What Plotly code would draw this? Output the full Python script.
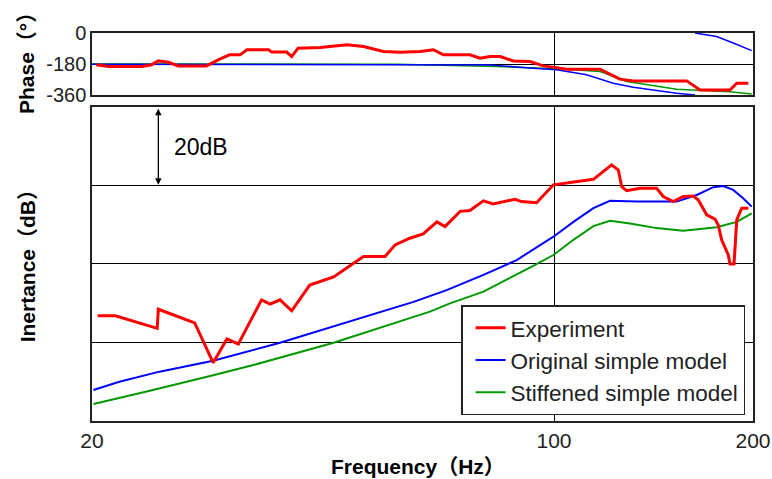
import math
import plotly.graph_objects as go

# ---------------- data ----------------
exp_freq = [20.4, 21.7, 25.1, 25.2, 28.6, 30.5, 32.0, 33.3, 36.1, 37.2, 38.5, 40.1, 42.7, 46.4,
            51.5, 55.5, 57.5, 60.5, 63.4, 66.5, 68.4, 72.1, 74.6, 78.2, 80.9, 87.3, 89.3, 94.1,
            99.8, 114.7, 122.2, 125.1, 126.6, 128.8, 134.9, 143.0, 146.3, 151.5, 156.9, 162.5,
            165.3, 170.2, 175.2, 177.2, 179.3, 183.5, 184.6, 187.2, 189.0, 192.3, 196.8]
exp_db = [26.7, 26.7, 23.5, 28.4, 24.9, 14.7, 20.8, 19.5, 30.8, 29.7, 30.8, 28.0, 34.6, 36.7,
          41.9, 41.9, 44.9, 46.6, 47.7, 50.8, 49.6, 53.5, 53.7, 56.2, 55.4, 56.6, 56.0, 55.7,
          60.3, 61.7, 65.4, 64.1, 59.8, 58.8, 59.4, 59.4, 57.3, 56.0, 57.3, 57.4,
          56.4, 52.6, 51.5, 50.0, 46.2, 42.3, 40.0, 40.0, 51.3, 54.3, 54.3]

orig_freq = [20.1, 22.0, 25.3, 30.5, 38.5, 52.1, 61.3, 68.8, 78.2, 87.8, 93.0, 99.8, 107.0,
             114.7, 121.5, 133.4, 153.3, 164.4, 174.2, 180.3, 186.7, 193.4, 199.1]
orig_db = [7.7, 9.8, 12.4, 15.2, 19.8, 26.7, 30.3, 33.3, 37.2, 41.0, 43.6, 47.0, 50.8,
           54.3, 56.2, 56.0, 56.0, 57.7, 59.7, 60.0, 59.0, 56.8, 54.7]

stif_freq = [20.1, 24.2, 30.5, 35.1, 46.4, 53.3, 64.9, 69.6, 78.2, 93.0, 99.8, 107.0, 114.7,
             121.5, 130.3, 143.0, 156.9, 176.2, 189.0, 199.1]
stif_db = [4.1, 7.3, 11.5, 14.1, 19.8, 23.1, 27.8, 29.9, 32.9, 39.5, 42.3, 46.2, 49.7,
           51.1, 50.4, 49.2, 48.5, 49.4, 50.8, 53.0]

exp_ph_freq = [20.3, 21.2, 23.8, 24.6, 25.2, 26.1, 27.0, 29.8, 31.2, 32.3, 33.5, 34.3, 37.0,
               37.4, 39.4, 40.1, 41.0, 44.3, 48.6, 51.5, 55.2, 58.5, 62.7, 65.7, 68.0, 74.6,
               77.3, 80.0, 82.9, 86.8, 92.0, 96.3, 100.9, 104.5, 117.4, 125.8, 131.8, 158.8,
               166.3, 184.6, 189.0, 196.8]
exp_ph = [-185, -195, -195, -185, -162, -169, -191, -191, -152, -127, -127, -97, -97,
          -111, -111, -137, -88, -84, -68, -78, -107, -112, -107, -97, -127, -127,
          -146, -137, -137, -162, -166, -191, -201, -210, -210, -268, -278, -278,
          -331, -331, -292, -292]

# phase of the original model wraps from -360 to 0 (None breaks the line)
orig_ph_freq = [20, 60, 80, 93.0, 100.9, 112.0, 122.9, 131.8, 153.3, 163.4, None,
                163.4, 176.2, 186.7, 199.1]
orig_ph = [-181, -183, -186, -204, -214, -243, -292, -315, -350, -360, None,
           0, -20, -58, -102]

stif_ph_freq = [20, 58, 81.9, 100.9, 117.4, 128.8, 153.3, 164.4, 184.6, 199.1]
stif_ph = [-180, -181, -195, -207, -224, -282, -327, -331, -341, -354]

x_ticks = [20, 100, 200]
x_tick_text = ["20", "100", "200"]
phase_ticks = [0, -180, -360]
phase_tick_text = ["0", "-180", "-360"]
db_grid = [20, 40, 60]

scale_bar_freq = 25.2      # 20 dB scale bar
scale_bar_db = [60.3, 80.2]

series_names = ["Experiment", "Original simple model", "Stiffened simple model"]
colors = ["#ff0000", "#0000ff", "#009900"]

# ---------------- figure ----------------
fig = go.Figure()

# bottom panel (inertance)
fig.add_trace(go.Scatter(x=stif_freq, y=stif_db, mode="lines", name=series_names[2],
                         line=dict(color=colors[2], width=2), legendrank=3,
                         xaxis="x", yaxis="y"))
fig.add_trace(go.Scatter(x=orig_freq, y=orig_db, mode="lines", name=series_names[1],
                         line=dict(color=colors[1], width=2), legendrank=2,
                         xaxis="x", yaxis="y"))
fig.add_trace(go.Scatter(x=exp_freq, y=exp_db, mode="lines", name=series_names[0],
                         line=dict(color=colors[0], width=3), legendrank=1,
                         xaxis="x", yaxis="y"))

# top panel (phase)
fig.add_trace(go.Scatter(x=stif_ph_freq, y=stif_ph, mode="lines", showlegend=False,
                         line=dict(color=colors[2], width=1.5), xaxis="x2", yaxis="y2"))
fig.add_trace(go.Scatter(x=orig_ph_freq, y=orig_ph, mode="lines", showlegend=False,
                         connectgaps=False,
                         line=dict(color=colors[1], width=1.5), xaxis="x2", yaxis="y2"))
fig.add_trace(go.Scatter(x=exp_ph_freq, y=exp_ph, mode="lines", showlegend=False,
                         line=dict(color=colors[0], width=3), xaxis="x2", yaxis="y2"))

xrange = [math.log10(20), math.log10(200)]
frame = dict(showline=True, mirror=True, linecolor="#222", linewidth=1.5,
             automargin=False, zeroline=False, ticks="")

fig.update_layout(
    width=772, height=479, autosize=False,
    margin=dict(l=92, r=19, t=33, b=58),
    paper_bgcolor="white", plot_bgcolor="white",
    font=dict(family="Arial, 'Liberation Sans', 'Noto Sans CJK JP'", color="black", size=20),
    xaxis=dict(type="log", range=xrange, domain=[0, 1], anchor="y",
               tickvals=x_ticks, ticktext=x_tick_text, showgrid=True, gridcolor="black",
               gridwidth=1, tickfont=dict(size=21, color="#222"), **frame),
    yaxis=dict(range=[-0.25, 80.25], domain=[0, 0.8093], anchor="x",
               tickvals=db_grid, showticklabels=False, showgrid=True, gridcolor="black",
               gridwidth=1, **frame),
    xaxis2=dict(type="log", range=xrange, domain=[0, 1], anchor="y2",
                tickvals=[100], showticklabels=False, showgrid=True, gridcolor="black",
                gridwidth=1, **frame),
    yaxis2=dict(range=[-360, 0], domain=[0.8402, 1], anchor="x2",
                tickvals=phase_ticks, ticktext=phase_tick_text, showgrid=True,
                gridcolor="black", gridwidth=1, tickfont=dict(size=20, color="#222"),
                **frame),
    legend=dict(x=0.988, y=0.015, xanchor="right", yanchor="bottom",
                bgcolor="white", bordercolor="#222", borderwidth=1.5,
                font=dict(size=22.5, color="#222"), itemwidth=30, tracegroupgap=0,
                indentation=8),
    showlegend=True,
)

# scale bar arrow and label
lx = math.log10(scale_bar_freq)
fig.add_annotation(x=lx, y=scale_bar_db[0], ax=lx, ay=scale_bar_db[1],
                   xref="x", yref="y", axref="x", ayref="y",
                   showarrow=True, arrowhead=2, startarrowhead=2, arrowside="end+start",
                   arrowsize=1, startarrowsize=1, arrowwidth=1.3, arrowcolor="black", text="")
fig.add_annotation(x=math.log10(26.4), y=70, xref="x", yref="y", text="20dB",
                   showarrow=False, xanchor="left", yanchor="middle",
                   font=dict(size=23, color="black"))

# axis titles
fig.add_annotation(x=-0.098, y=0.936, xref="paper", yref="paper", text="<b>Phase（°）</b>",
                   textangle=-90, showarrow=False, xanchor="center", yanchor="middle",
                   font=dict(size=21))
fig.add_annotation(x=-0.098, y=0.412, xref="paper", yref="paper", text="<b>Inertance（dB）</b>",
                   textangle=-90, showarrow=False, xanchor="center", yanchor="middle",
                   font=dict(size=21))
fig.add_annotation(x=0.493, y=-0.116, xref="paper", yref="paper", text="<b>Frequency（Hz）</b>",
                   showarrow=False, xanchor="center", yanchor="middle",
                   font=dict(size=21))

post = ("document.body.style.margin='0';document.body.style.overflow='hidden';"
        "var gd=document.getElementById('{plot_id}');"
        "Plotly.relayout(gd,{width:772,height:479});")
fig.write_html("out.html", config={"responsive": False, "displayModeBar": False},
               post_script=post)
